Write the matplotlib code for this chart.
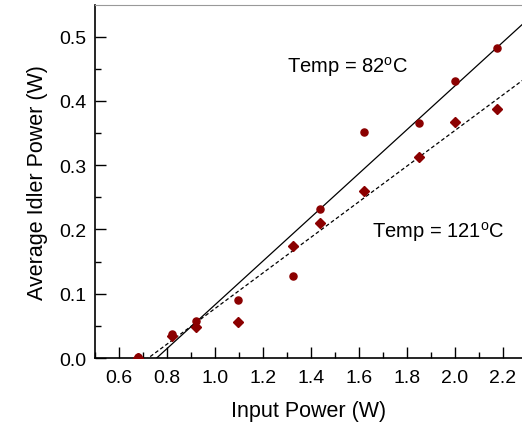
import numpy as np
import matplotlib.pyplot as plt
from matplotlib.ticker import MultipleLocator

plt.rcParams['font.family'] = ['Liberation Sans', 'DejaVu Sans']

# input power (W)
input_power = [0.68, 0.82, 0.92, 1.097, 1.326, 1.4375, 1.62, 1.85, 2.0, 2.175]
# idler power at 82 C (circles)
idler_82 = [0.002, 0.038, 0.057, 0.091, 0.128, 0.231, 0.352, 0.365, 0.431, 0.482]
# idler power at 121 C (diamonds)
idler_121 = [0.0, 0.034, 0.048, 0.056, 0.174, 0.210, 0.259, 0.312, 0.367, 0.388]

# linear fits: (slope, intercept)
fit_82 = (0.3406, -0.2578)
fit_121 = (0.2770, -0.2000)

x_ticks = [0.6, 0.8, 1.0, 1.2, 1.4, 1.6, 1.8, 2.0, 2.2]
y_ticks = [0.0, 0.1, 0.2, 0.3, 0.4, 0.5]

fig = plt.figure(figsize=(5.22, 4.31), dpi=100)
ax = fig.add_axes([0.182, 0.167, 0.818, 0.819])

xs = np.linspace(0.5, 2.3, 50)
ax.plot(xs, fit_82[0] * xs + fit_82[1], '-', color='black', lw=0.9)
ax.plot(xs, fit_121[0] * xs + fit_121[1], '--', color='black', lw=0.9, dashes=(3, 2))

red = '#8b0000'
ax.plot(input_power, idler_82, 'o', color=red, ms=5.1, zorder=3)
ax.plot(input_power, idler_121, 'D', color=red, ms=4.6, zorder=3)

ax.text(1.3, 0.454, 'Temp = 82$^\\mathregular{o}$C', fontsize=14.5, va='center')
ax.text(1.655, 0.197, 'Temp = 121$^\\mathregular{o}$C', fontsize=14.5, va='center')

ax.set_xlim(0.5, 2.279)
ax.set_ylim(0.0, 0.549)
ax.set_xticks(x_ticks)
ax.set_yticks(y_ticks)
ax.set_xticklabels([f'{v:.1f}' for v in x_ticks])
ax.set_yticklabels([f'{v:.1f}' for v in y_ticks])
ax.xaxis.set_minor_locator(MultipleLocator(0.1))
ax.yaxis.set_minor_locator(MultipleLocator(0.05))
ax.tick_params(which='major', direction='in', length=8, width=1, labelsize=14)
ax.tick_params(axis='x', which='major', pad=8)
ax.tick_params(axis='y', which='major', pad=6)
ax.tick_params(which='minor', direction='in', length=4, width=1)
ax.tick_params(top=False, right=False, which='both')

ax.spines['right'].set_visible(False)
ax.spines['top'].set_color('#999999')
ax.spines['left'].set_linewidth(1.2)
ax.spines['bottom'].set_linewidth(1.2)

ax.set_xlabel('Input Power (W)', fontsize=15.5, labelpad=10)
ax.set_ylabel('Average Idler Power (W)', fontsize=15.5, labelpad=8)

fig.savefig('out.png', dpi=100)
